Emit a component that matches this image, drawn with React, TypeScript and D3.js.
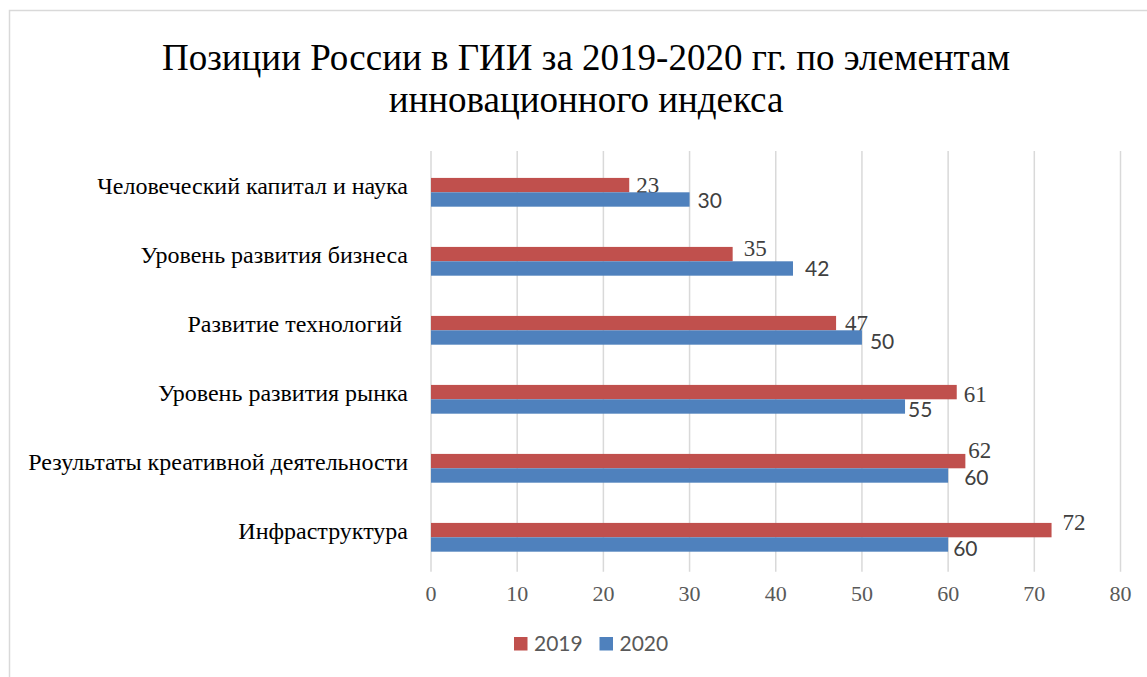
import * as d3 from 'd3'

const CATEGORIES = [
  'Человеческий капитал и наука',
  'Уровень развития бизнеса',
  'Развитие технологий ',
  'Уровень развития рынка',
  'Результаты креативной деятельности',
  'Инфраструктура',
]
const SERIES = ['2019', '2020']
const VALUES_2019 = [23, 35, 47, 61, 62, 72]
const VALUES_2020 = [30, 42, 50, 55, 60, 60]
const X_TICKS = [0, 10, 20, 30, 40, 50, 60, 70, 80]

// label nudges, as Excel placed them to avoid overlaps
const NUDGE_2019 = [[7, 0], [11, -6], [9, 0], [7, 2], [3, -11], [11, -8]]
const NUDGE_2020 = [[8, 1], [12, 0], [8, 4], [3, 3], [16, 2], [5, 4]]

const COLORS = ['#C0504D', '#4F81BD']
const SERIF = '"Liberation Serif", "Times New Roman", serif'
const SANS = 'Lato, "Open Sans", sans-serif'

export default function App() {
  const width = 1147
  const height = 677
  const x = d3.scaleLinear().domain([0, 80]).range([431, 1120.5])
  const y = d3.scaleBand<string>()
    .domain(CATEGORIES)
    .range([157.8, 571.8])
    .paddingInner(0.583)
    .paddingOuter(0.2915)
  const inner = d3.scaleBand<string>().domain(SERIES).range([0, y.bandwidth()])
  const series = [VALUES_2019, VALUES_2020]
  const nudges = [NUDGE_2019, NUDGE_2020]

  return (
    <svg
      width={width}
      height={height}
      style={{ position: 'absolute', left: 0, top: 0, background: '#fff' }}
    >
      <rect x={9.5} y={10.5} width={1200} height={700} fill="#fff" stroke="#d9d9d9" strokeWidth={1.5} />
      <text x={586} y={70} textAnchor="middle" fontFamily={SERIF} fontSize={37} fill="#000">
        Позиции России в ГИИ за 2019-2020 гг. по элементам
      </text>
      <text x={586} y={112} textAnchor="middle" fontFamily={SERIF} fontSize={37} fill="#000">
        инновационного индекса
      </text>

      {X_TICKS.map(t => (
        <g key={t}>
          <line x1={x(t)} x2={x(t)} y1={151} y2={571.8} stroke="#d9d9d9" strokeWidth={1.5} />
          <text x={x(t)} y={601} textAnchor="middle" fontFamily={SERIF} fontSize={22} fill="#595959">
            {t}
          </text>
        </g>
      ))}

      {CATEGORIES.map((c, i) => (
        <g key={c}>
          <text
            x={408}
            y={y(c)! + y.bandwidth() / 2 + 1.5}
            textAnchor="end"
            fontFamily={SERIF}
            fontSize={24}
            fill="#000"
            style={{ whiteSpace: 'pre' }}
          >
            {c}
          </text>
          {series.map((vals, s) => {
            const by = y(c)! + inner(SERIES[s])!
            const bh = inner.bandwidth()
            const [dx, dy] = nudges[s][i]
            return (
              <g key={s}>
                <rect x={x(0)} y={by} width={x(vals[i]) - x(0)} height={bh} fill={COLORS[s]} />
                <text
                  x={x(vals[i]) + dx}
                  y={by + bh / 2 + dy}
                  dy="0.36em"
                  fontFamily={s === 0 ? SERIF : SANS}
                  fontSize={s === 0 ? 23 : 21}
                  fill="#404040"
                >
                  {vals[i]}
                </text>
              </g>
            )
          })}
        </g>
      ))}

      {SERIES.map((name, s) => (
        <g key={name} transform={`translate(${514 + s * 85.5},637)`}>
          <rect width={13.5} height={13.5} fill={COLORS[s]} />
          <text x={20} y={6.75} dy="0.36em" fontFamily={SANS} fontSize={21} fill="#595959">
            {name}
          </text>
        </g>
      ))}
    </svg>
  )
}
